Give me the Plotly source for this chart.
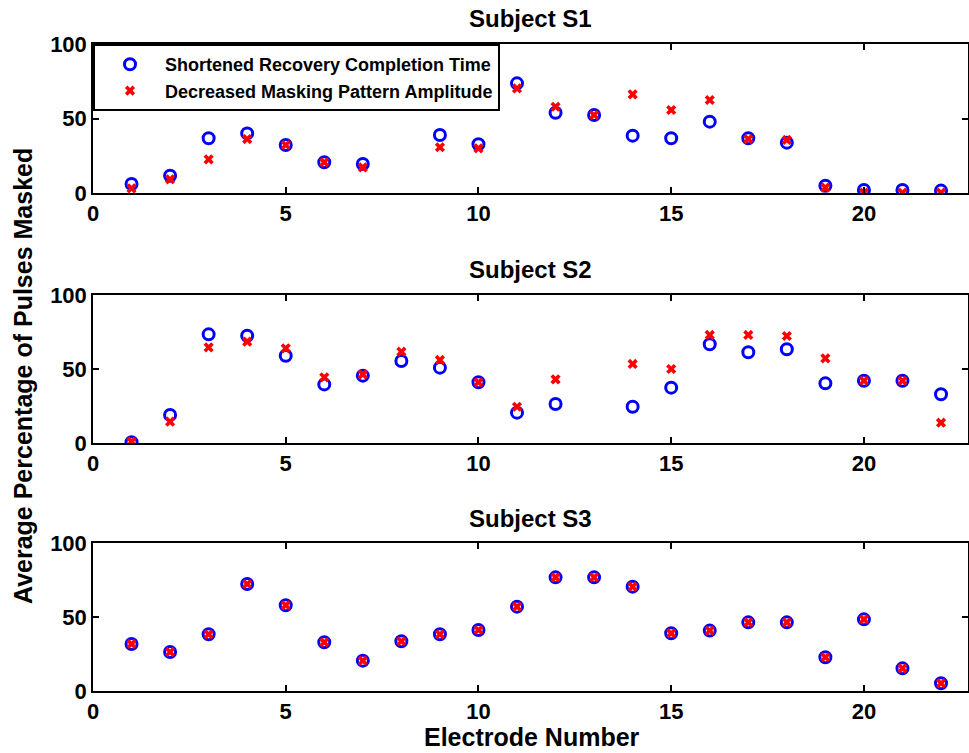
import plotly.graph_objects as go

# Electrode numbers per subject (missing electrodes omitted)
electrodes_s1 = [1, 2, 3, 4, 5, 6, 7, 9, 10, 11, 12, 13, 14, 15, 16, 17, 18, 19, 20, 21, 22]
electrodes_s2 = [1, 2, 3, 4, 5, 6, 7, 8, 9, 10, 11, 12, 14, 15, 16, 17, 18, 19, 20, 21, 22]
electrodes_s3 = list(range(1, 23))

# Average percentage of pulses masked
recovery_s1 = [6.0, 11.6, 36.7, 40.0, 32.2, 20.6, 19.5, 38.9, 32.7, 73.6, 53.9,
               52.3, 38.5, 36.7, 47.9, 36.7, 33.8, 4.9, 2.0, 2.0, 1.6]
amplitude_s1 = [3.1, 9.2, 22.6, 36.2, 32.2, 20.6, 17.2, 30.7, 30.0, 70.2, 57.9,
                52.3, 66.2, 55.7, 62.4, 36.2, 35.6, 3.6, 0.2, 0.2, 0.2]

recovery_s2 = [0.5, 18.9, 73.4, 72.5, 59.0, 39.6, 45.5, 55.4, 50.9, 41.0, 20.5,
               26.4, 24.5, 37.4, 66.7, 61.3, 63.3, 40.3, 42.1, 42.1, 32.9]
amplitude_s2 = [0.9, 14.4, 64.6, 68.5, 64.0, 44.4, 46.4, 61.7, 56.1, 41.0, 24.5,
                43.0, 53.4, 50.0, 73.0, 73.0, 72.3, 57.2, 42.1, 42.1, 13.7]

recovery_s3 = [31.8, 26.4, 38.3, 72.3, 57.9, 32.9, 20.5, 33.6, 38.3, 41.2, 57.0,
               76.8, 76.8, 70.5, 39.0, 40.8, 46.4, 46.4, 22.8, 48.4, 15.3, 5.2]
amplitude_s3 = list(recovery_s3)

subjects = ["Subject S1", "Subject S2", "Subject S3"]
x_ticks = [0, 5, 10, 15, 20]
y_ticks = [0, 50, 100]

series = [
    (electrodes_s1, recovery_s1, amplitude_s1),
    (electrodes_s2, recovery_s2, amplitude_s2),
    (electrodes_s3, recovery_s3, amplitude_s3),
]

W, H = 969, 753
FONT = "Liberation Sans, Arial, sans-serif"
x_dom = [93 / W, 968 / W]
# panel top/bottom in pixels, and title centre line
panels = [(44, 193), (295, 443), (543, 691)]
title_y = [19, 269, 518]

fig = go.Figure()
for i, (xs, rec, amp) in enumerate(series):
    k = "" if i == 0 else str(i + 1)
    fig.add_trace(go.Scatter(
        x=xs, y=rec, mode="markers", name="Shortened Recovery Completion Time",
        xaxis="x" + k, yaxis="y" + k, showlegend=(i == 0),
        marker=dict(symbol="circle-open", size=11, color="#0000ff",
                    line=dict(width=3, color="#0000ff")),
    ))
    fig.add_trace(go.Scatter(
        x=xs, y=amp, mode="markers", name="Decreased Masking Pattern Amplitude",
        xaxis="x" + k, yaxis="y" + k, showlegend=(i == 0),
        marker=dict(symbol="x", size=9, color="#ff0000",
                    line=dict(width=0)),
    ))

axis_common = dict(
    showgrid=False, zeroline=False, showline=True, linecolor="black",
    linewidth=1.5, mirror="ticks", ticks="inside", ticklen=6,
    tickcolor="black", tickwidth=1.5, automargin=False,
    tickfont=dict(family=FONT, size=22, color="black", weight="bold"),
)

layout = dict(
    width=W, height=H, paper_bgcolor="white", plot_bgcolor="white",
    margin=dict(l=0, r=0, t=0, b=0),
    showlegend=True,
    legend=dict(
        x=x_dom[0], y=1 - 44 / H, xanchor="left", yanchor="top",
        bgcolor="white", bordercolor="black", borderwidth=2,
        font=dict(family=FONT, size=18, color="black", weight="bold"),
        itemwidth=60, tracegroupgap=0,
    ),
)

annotations = []
for i, (top, bot) in enumerate(panels):
    k = "" if i == 0 else str(i + 1)
    layout["xaxis" + k] = dict(
        axis_common, domain=x_dom, range=[0, 22.7], tickvals=x_ticks,
        anchor="y" + k,
    )
    layout["yaxis" + k] = dict(
        axis_common, domain=[1 - bot / H, 1 - top / H], range=[0, 100],
        tickvals=y_ticks, anchor="x" + k,
    )
    annotations.append(dict(
        text=subjects[i], xref="paper", yref="paper",
        x=530 / W, y=1 - title_y[i] / H,
        xanchor="center", yanchor="middle", showarrow=False,
        font=dict(family=FONT, size=24, color="black", weight="bold"),
    ))

annotations.append(dict(
    text="Average Percentage of Pulses Masked", xref="paper", yref="paper",
    x=23 / W, y=1 - 376 / H, xanchor="center", yanchor="middle",
    textangle=-90, showarrow=False,
    font=dict(family=FONT, size=25, color="black", weight="bold"),
))
annotations.append(dict(
    text="Electrode Number", xref="paper", yref="paper",
    x=532 / W, y=1 - 737 / H, xanchor="center", yanchor="middle",
    showarrow=False,
    font=dict(family=FONT, size=25, color="black", weight="bold"),
))
layout["annotations"] = annotations

fig.update_layout(**layout)
fig.write_html("out.html")
